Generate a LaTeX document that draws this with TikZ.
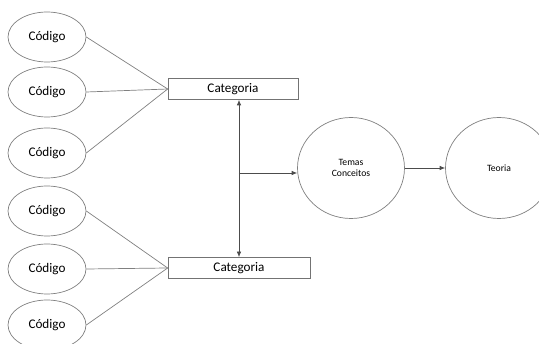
\documentclass[tikz,border=0pt]{standalone}
\usepackage{fontspec}
\setmainfont{Carlito}
\usepackage{tikz}
\usetikzlibrary{shapes,arrows.meta,positioning,calc}

\begin{document}
\begin{tikzpicture}[
    x=0.02cm, y=-0.02cm,
    codigo/.style={ellipse, draw=black!50, minimum width=1.56cm, minimum height=1.0cm, inner sep=0pt, font=\fontsize{7.5}{9}\selectfont},
    categoria/.style={rectangle, draw=black!55, minimum height=0.42cm, inner sep=0pt, font=\fontsize{7.5}{9}\selectfont},
    tema/.style={ellipse, draw=black!50, minimum width=2.14cm, minimum height=2.02cm, inner sep=0pt, align=center, font=\fontsize{5.5}{6.6}\selectfont},
    link/.style={draw=black!50, thin},
    arrow/.style={-{Latex[length=1.1mm, width=0.9mm]}, draw=black!70, thin}
]
    \useasboundingbox (0,0) rectangle (539,344);

    % codes
    \node[codigo] (cod1) at (47,37) {Código};
    \node[codigo] (cod2) at (47,92) {Código};
    \node[codigo] (cod3) at (47,153) {Código};
    \node[codigo] (cod4) at (47,211) {Código};
    \node[codigo] (cod5) at (47,269) {Código};
    \node[codigo] (cod6) at (47,325) {Código};

    % categories
    \node[categoria, minimum width=2.6cm] (cat1) at (233,89) {Categoria};
    \node[categoria, minimum width=2.84cm] (cat2) at (239,268) {Categoria};

    % themes and theory
    \node[tema] (temas) at (351,168) {Temas\\Conceitos};
    \node[tema] (teoria) at (499,168) {Teoria};

    \coordinate (jn) at (239,173);

    \foreach \c in {cod1,cod2,cod3}
        \draw[link] (\c.east) -- (cat1.west);
    \foreach \c in {cod4,cod5,cod6}
        \draw[link] (\c.east) -- (cat2.west);

    \draw[arrow, {Latex[length=1.1mm, width=0.9mm]}-{Latex[length=1.1mm, width=0.9mm]}] (cat1.south -| jn) -- (cat2.north -| jn);
    \draw[arrow] (jn) -- (jn -| temas.west);
    \draw[arrow] (temas.east) -- (teoria.west);
\end{tikzpicture}
\end{document}
